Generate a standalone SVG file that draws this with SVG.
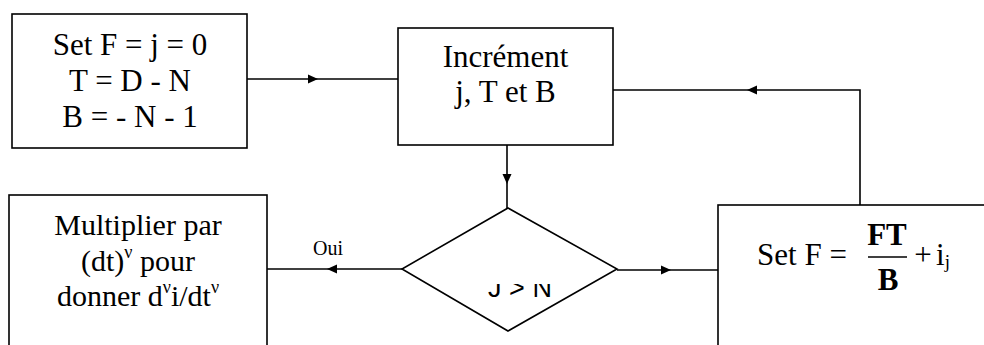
<svg xmlns="http://www.w3.org/2000/svg" width="984" height="345" viewBox="0 0 984 345">
<style>
.box{fill:#fff;stroke:#000;stroke-width:1.6}
.ln{fill:none;stroke:#000;stroke-width:1.6}
.hd{fill:#000;stroke:none}
.t{font-family:"Liberation Serif","Times New Roman",serif;font-size:31px;fill:#000;text-anchor:middle}
.m{font-size:30px}
.sup{font-size:18px}
.lbl{font-family:"Liberation Serif","Times New Roman",serif;font-size:20px;fill:#000}
.st{font-family:"Liberation Sans",Arial,sans-serif;font-size:27px;fill:#000;text-anchor:middle}
</style>
<defs>
<clipPath id="cl"><rect x="400" y="284" width="240" height="60"/></clipPath>
</defs>
<rect width="984" height="345" fill="#fff"/>
<g id="connectors">
<line class="ln" x1="247" y1="79" x2="398" y2="79"/>
<polygon class="hd" points="318,79 308,74.5 308,83.5"/>
<line class="ln" x1="507" y1="145" x2="507" y2="208"/>
<polygon class="hd" points="507,184 502.5,174 511.5,174"/>
<line class="ln" x1="617" y1="270" x2="718" y2="270"/>
<polygon class="hd" points="671,270 661,265.5 661,274.5"/>
<polyline class="ln" points="860,205 860,90 613,90"/>
<polygon class="hd" points="747,90 757,85.5 757,94.5"/>
<line class="ln" x1="402" y1="269" x2="267" y2="269"/>
<polygon class="hd" points="327,269 337,264.5 337,273.5"/>
<text class="lbl" x="313" y="255">Oui</text>
</g>
<g id="init">
<rect class="box" x="12" y="14" width="235" height="134"/>
<text class="t" x="130" y="55">Set F = j = 0</text>
<text class="t" x="130" y="91">T = D - N</text>
<text class="t" x="130" y="127">B = - N - 1</text>
</g>
<g id="increment">
<rect class="box" x="398" y="28" width="215" height="117"/>
<text class="t" x="505.5" y="67">Incrément</text>
<text class="t" x="505.5" y="102">j, T et B</text>
</g>
<g id="decision">
<polygon class="box" points="508,208 617,269 508,331 402,269"/>
<text class="st" x="520" y="297" clip-path="url(#cl)">J &gt; N</text>
</g>
<g id="multiply">
<rect class="box" x="9" y="195" width="258" height="160"/>
<text class="t m" x="138" y="235">Multiplier par</text>
<text class="t m" x="138" y="271">(dt)<tspan class="sup" dy="-13">ν</tspan><tspan dy="13"> pour</tspan></text>
<text class="t m" x="138" y="306">donner d<tspan class="sup" dy="-13">ν</tspan><tspan dy="13">i/dt</tspan><tspan class="sup" dy="-13">ν</tspan></text>
</g>
<g id="setF">
<rect class="box" x="718" y="205" width="280" height="160"/>
<text class="t" x="802" y="265">Set F =</text>
<text class="t" x="887" y="245" font-weight="bold">FT</text>
<line class="ln" x1="868" y1="257" x2="907" y2="257"/>
<text class="t" x="888" y="290" font-weight="bold">B</text>
<text class="t" x="923" y="265">+</text>
<text class="t" x="943" y="265">i<tspan font-size="19" dy="3">j</tspan></text>
</g>
</svg>
